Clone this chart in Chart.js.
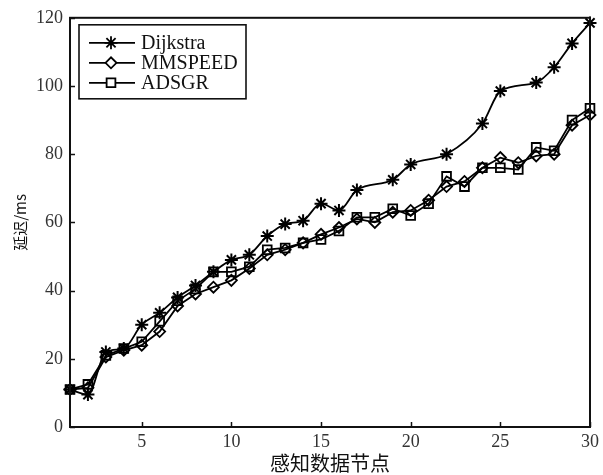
<!DOCTYPE html>
<html>
<head>
<meta charset="utf-8">
<script src="https://cdn.jsdelivr.net/npm/chart.js@4/dist/chart.umd.min.js"></script>
<style>
html,body{margin:0;padding:0;background:#fff;}
#wrap{width:603px;height:475px;position:relative;}
</style>
</head>
<body>
<div id="wrap"><canvas id="c" width="603" height="475"></canvas></div>
<script>
// ---- data ----
const seriesNames = ["Dijkstra", "MMSPEED", "ADSGR"];
const nodes = [1,2,3,4,5,6,7,8,9,10,11,12,13,14,15,16,17,18,19,20,21,22,23,24,25,26,27,28,29,30];
const dijkstraNodes = [1,2,3,4,5,6,7,8,9,10,11,12,13,14,15,16,17,19,20,22,24,25,27,28,29,30];
const dijkstraDelay = [11,9.5,22,23,30,33.5,38,41.5,45.5,49,50.5,56,59.5,60.5,65.5,63.5,69.5,72.5,77,80,89,98.5,101,105.5,112.5,118.5];
const mmspeedDelay = [11,11.5,20.5,22.5,24,28,35.5,39,41,43,46.5,50.5,52,54,56.5,58.5,61,60,63,63.5,66.5,70.5,72,76,79,77.5,79.5,80,88.5,91.5];
const adsgrDelay = [11,12.5,21,23,25,31,37,40.5,45.5,45.5,47,52,52.5,54,55,57.5,61.5,61.5,64,62,65.5,73.5,70.5,76,76,75.5,82,81,90,93.5];
const xTicks = [5,10,15,20,25,30];
const yTicks = [0,20,40,60,80,100,120];
const xTitle = "感知数据节点";
const yTitle = "延迟/ms";

const toPts = (xs, ys) => xs.map((x, i) => ({x: x, y: ys[i]}));

const serif = "'Liberation Serif','DejaVu Serif',serif";
const cjk = "'Noto Sans CJK SC','Liberation Serif',serif";

const frame = {
  id: 'frame',
  afterDraw(chart) {
    const ctx = chart.ctx;
    const a = chart.chartArea;
    ctx.save();
    ctx.strokeStyle = '#111';
    ctx.lineWidth = 2;
    ctx.strokeRect(a.left, a.top, a.right - a.left, a.bottom - a.top);
    // inward ticks
    ctx.lineWidth = 1.5;
    const xs = chart.scales.x, ys = chart.scales.y;
    xTicks.forEach(v => {
      const px = Math.round(xs.getPixelForValue(v)) + 0.5;
      ctx.beginPath(); ctx.moveTo(px, a.bottom); ctx.lineTo(px, a.bottom - 5); ctx.stroke();
    });
    yTicks.forEach(v => {
      const py = Math.round(ys.getPixelForValue(v)) + 0.5;
      ctx.beginPath(); ctx.moveTo(a.left, py); ctx.lineTo(a.left + 5, py); ctx.stroke();
    });
    // legend
    const lx = a.left + 9, ly = a.top + 7, lw = 167, lh = 74;
    ctx.fillStyle = '#fff';
    ctx.fillRect(lx, ly, lw, lh);
    ctx.lineWidth = 1.6;
    ctx.strokeStyle = '#111';
    ctx.strokeRect(lx, ly, lw, lh);
    chart.data.datasets.forEach((ds, i) => {
      const cy = ly + 18 + i * 20;
      ctx.strokeStyle = '#000';
      ctx.lineWidth = 1.8;
      ctx.beginPath(); ctx.moveTo(lx + 10, cy); ctx.lineTo(lx + 56, cy); ctx.stroke();
      ctx.fillStyle = '#fff';
      Chart.helpers.drawPoint(ctx, {pointStyle: ds.pointStyle, radius: ds.pointRadius, rotation: 0, borderWidth: 1.8}, lx + 32, cy);
      ctx.fillStyle = '#111';
      ctx.font = '20px ' + serif;
      ctx.textBaseline = 'middle';
      ctx.textAlign = 'left';
      ctx.fillText(ds.label, lx + 62, cy + 1);
    });
    ctx.restore();
  }
};

new Chart(document.getElementById('c'), {
  type: 'line',
  data: {
    datasets: [
      {label: seriesNames[0], data: toPts(dijkstraNodes, dijkstraDelay), borderColor: '#000', backgroundColor: '#000',
       borderWidth: 1.8, pointStyle: 'star', pointRadius: 6.5, pointBorderWidth: 2, pointBorderColor: '#000',
       cubicInterpolationMode: 'monotone'},
      {label: seriesNames[1], data: toPts(nodes, mmspeedDelay), borderColor: '#000', backgroundColor: 'rgba(0,0,0,0)',
       borderWidth: 1.8, pointStyle: 'rectRot', pointRadius: 5.5, pointBorderWidth: 1.8, pointBorderColor: '#000',
       pointBackgroundColor: 'rgba(0,0,0,0)', tension: 0},
      {label: seriesNames[2], data: toPts(nodes, adsgrDelay), borderColor: '#000', backgroundColor: 'rgba(0,0,0,0)',
       borderWidth: 1.8, pointStyle: 'rect', pointRadius: 6.2, pointBorderWidth: 1.8, pointBorderColor: '#000',
       pointBackgroundColor: 'rgba(0,0,0,0)', tension: 0}
    ]
  },
  options: {
    responsive: false,
    animation: false,
    clip: false,
    layout: {padding: {left: 0, right: 11, top: 17, bottom: 0}},
    plugins: {legend: {display: false}, tooltip: {enabled: false}},
    scales: {
      x: {
        type: 'linear', min: 1, max: 30,
        afterBuildTicks: s => { s.ticks = xTicks.map(v => ({value: v})); },
        afterFit: s => { s.height = 48; },
        grid: {display: false, drawTicks: false},
        border: {display: false},
        ticks: {color: '#333', font: {family: serif, size: 18}, padding: 4, maxRotation: 0},
        title: {display: true, text: xTitle, color: '#111', font: {family: cjk, size: 20}, padding: {top: 0, bottom: 0}}
      },
      y: {
        type: 'linear', min: 0, max: 120,
        afterBuildTicks: s => { s.ticks = yTicks.map(v => ({value: v})); },
        afterFit: s => { s.width = 70; },
        grid: {display: false, drawTicks: false},
        border: {display: false},
        ticks: {color: '#333', font: {family: serif, size: 18}, padding: 7},
        title: {display: true, text: yTitle, color: '#111', font: {family: cjk, size: 15}, padding: {top: 11, bottom: 0}}
      }
    }
  },
  plugins: [frame]
});
</script>
</body>
</html>
